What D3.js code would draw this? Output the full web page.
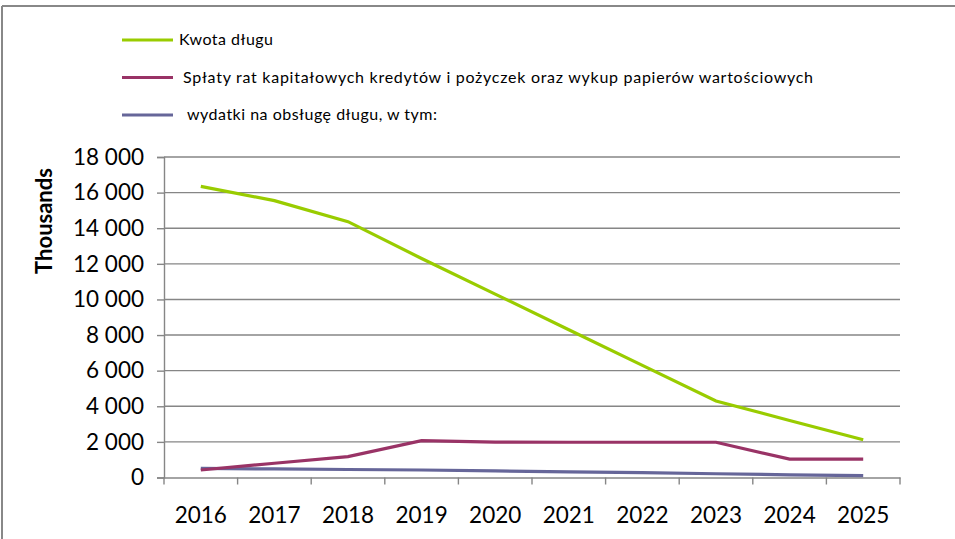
<!DOCTYPE html>
<html>
<head>
<meta charset="utf-8">
<script src="https://cdn.jsdelivr.net/npm/d3@7"></script>
<style>
  body { margin: 0; background: #fff; }
  text { font-family: Lato, "Open Sans", sans-serif; fill: #000; }
</style>
</head>
<body>
<svg id="chart" width="955" height="539"></svg>
<script>
"use strict";

// data
const years = ["2016", "2017", "2018", "2019", "2020", "2021", "2022", "2023", "2024", "2025"];
const kwotaDlugu = [16350, 15550, 14370, 12300, 10300, 8300, 6300, 4300, 3200, 2120];
const splatyRat = [420, 800, 1170, 2070, 1990, 1980, 1980, 1980, 1030, 1030];
const wydatki = [510, 480, 450, 420, 370, 320, 270, 210, 150, 100];
const yTicks = [0, 2000, 4000, 6000, 8000, 10000, 12000, 14000, 16000, 18000];
const seriesNames = [
  "Kwota długu",
  "Spłaty rat kapitałowych kredytów i pożyczek oraz wykup papierów wartościowych",
  "wydatki na obsługę długu, w tym:"
];
const seriesColors = ["#99cc00", "#993366", "#666699"];

const svg = d3.select("#chart");
const plotLeft = 164, plotRight = 900, plotTop = 157, plotBottom = 477.5;

// frame (only top and left edges are visible in the original)
svg.append("line").attr("x1", 2).attr("x2", 955).attr("y1", 6).attr("y2", 6)
  .attr("stroke", "#888").attr("stroke-width", 2);
svg.append("line").attr("x1", 2).attr("x2", 2).attr("y1", 6).attr("y2", 539)
  .attr("stroke", "#888").attr("stroke-width", 2);

const x = d3.scaleBand().domain(years).range([plotLeft, plotRight]);
const y = d3.scaleLinear().domain([0, 18000]).range([plotBottom, plotTop]);

const fmt = d3.formatLocale({ decimal: ",", thousands: " ", grouping: [3], currency: ["", ""] }).format(",d");

// gridlines
svg.append("g").selectAll("line").data(yTicks.slice(1)).enter().append("line")
  .attr("x1", plotLeft).attr("x2", plotRight)
  .attr("y1", d => y(d)).attr("y2", d => y(d))
  .attr("stroke", "#868686").attr("stroke-width", 1.4);

// y axis
const yAxis = svg.append("g").attr("transform", `translate(${plotLeft},0)`)
  .call(d3.axisLeft(y).tickValues(yTicks).tickFormat(fmt).tickSize(7).tickPadding(13));
yAxis.select(".domain").attr("stroke", "#868686").attr("stroke-width", 1.4);
yAxis.selectAll(".tick line").attr("stroke", "#868686").attr("stroke-width", 1.4);
yAxis.selectAll(".tick text").attr("font-size", 22.5).attr("font-family", "Lato").attr("fill", "#000");

// x axis with ticks on band boundaries
const xAxis = svg.append("g").attr("transform", `translate(0,${plotBottom})`)
  .call(d3.axisBottom(x).tickSize(0).tickPadding(30));
xAxis.select(".domain").attr("stroke", "#868686").attr("stroke-width", 1.4);
xAxis.selectAll(".tick text").attr("font-size", 22.5).attr("font-family", "Lato").attr("fill", "#000");
const bounds = years.map(d => x(d)).concat([plotRight]);
xAxis.append("g").selectAll("line").data(bounds).enter().append("line")
  .attr("x1", d => d).attr("x2", d => d).attr("y1", 0).attr("y2", 7)
  .attr("stroke", "#868686").attr("stroke-width", 1.4);

// y axis title
svg.append("text")
  .attr("transform", "translate(52,221) rotate(-90)")
  .attr("text-anchor", "middle")
  .attr("font-size", 22).attr("font-weight", "bold")
  .text("Thousands");

// series lines
const line = d3.line()
  .x((d, i) => x(years[i]) + x.bandwidth() / 2)
  .y(d => y(d));

[wydatki, splatyRat, kwotaDlugu].forEach((s, k) => {
  svg.append("path").datum(s)
    .attr("d", line)
    .attr("fill", "none")
    .attr("stroke", seriesColors[2 - k])
    .attr("stroke-width", 3.2);
});

// legend
const legY = [40, 77.5, 115];
const legTextX = [179, 183, 187];
const legW = [94, 630, 250];
const legend = svg.append("g");
seriesNames.forEach((name, i) => {
  legend.append("line")
    .attr("x1", 122).attr("x2", 173).attr("y1", legY[i]).attr("y2", legY[i])
    .attr("stroke", seriesColors[i]).attr("stroke-width", 3.2);
  legend.append("text")
    .attr("x", legTextX[i]).attr("y", legY[i] + 5)
    .attr("font-size", 16)
    .attr("textLength", legW[i]).attr("lengthAdjust", "spacing")
    .text(name);
});
</script>
</body>
</html>
